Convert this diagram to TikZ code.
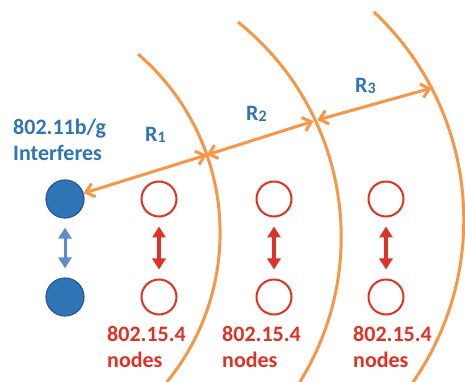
\documentclass[tikz,border=0pt]{standalone}
\usepackage{fontspec}
\setmainfont{Carlito}
\usetikzlibrary{arrows.meta}
\definecolor{wifiblue}{RGB}{46,117,182}
\definecolor{wifiedge}{RGB}{47,85,151}
\definecolor{linkblue}{RGB}{91,140,205}
\definecolor{zigred}{RGB}{222,50,38}
\definecolor{rangeorange}{RGB}{247,150,70}
\newcommand\rsub[1]{R\raisebox{-1pt}{\fontsize{16}{16}\selectfont #1}}
\begin{document}
\begin{tikzpicture}[x=1pt, y=1pt,
  every node/.style = {font=\bfseries\fontsize{22}{26}\selectfont},
  wifi/.style = {circle, draw=wifiedge, line width=1.2pt, fill=wifiblue,
    minimum size=38pt, inner sep=0pt},
  zig/.style = {circle, draw=zigred, line width=2pt, minimum size=35pt, inner sep=0pt},
  rangearc/.style = {rangeorange, line width=3pt},
  reach/.style = {rangearc, {Straight Barb[length=8pt,width=14pt]}-{Straight Barb[length=8pt,width=14pt]}},
  link/.style = {line width=3pt, shorten <=9pt, shorten >=9pt,
    {Triangle[length=11pt,width=13pt]}-{Triangle[length=11pt,width=13pt]}},
  caption/.style = {anchor=base west, align=left, inner sep=0pt},
  rlabel/.style = {anchor=base west, inner sep=0pt, text=wifiblue}
  ]
  \useasboundingbox (0,0) rectangle (465,382);

  \draw[rangearc] (-15.6,149.2) ++(49.3:235.7) arc[start angle=49.3, end angle=-39.3, radius=235.7];
  \draw[rangearc] (65.9,145.1) ++(51.3:275.3) arc[start angle=51.3, end angle=-31.8, radius=275.3];
  \draw[rangearc] (178.7,162.3) ++(46.8:285.1) arc[start angle=46.8, end angle=-34.7, radius=285.1];
  \path (-15.6,149.2) ++(19.3:235.7) coordinate (r1);
  \path (65.9,145.1) ++(25.0:275.3) coordinate (r2);
  \path (178.7,162.3) ++(27.5:285.1) coordinate (r3);

  \node[wifi] (w1) at (65,183) {};
  \node[wifi] (w2) at (65,85) {};
  \draw[link, linkblue] (w1) -- (w2);
  \foreach \i/\x in {1/159, 2/274, 3/386} {
    \node[zig] (z\i) at (\x,183) {};
    \node[zig] (zb\i) at (\x,85) {};
    \draw[link, zigred, line width=3.5pt] (z\i) -- (zb\i);
  }

  \draw[reach] (w1) -- (r1);
  \draw[reach, shorten >=2pt] (r1) -- (r2);
  \draw[reach, shorten <=2pt] (r2) -- (r3);

  \node[rlabel] (l1) at (145,240) {\rsub{1}};
  \node[rlabel] (l2) at (246,261) {\rsub{2}};
  \node[rlabel] (l3) at (355,289) {\rsub{3}};

  \node[caption, text=wifiblue] (wifitext) at (13,221) {802.11b/g\\Interferes};
  \node[caption, text=zigred] (zigtext1) at (107,14) {802.15.4\\nodes};
  \node[caption, text=zigred] (zigtext2) at (222,14) {802.15.4\\nodes};
  \node[caption, text=zigred] (zigtext3) at (353,14) {802.15.4\\nodes};
\end{tikzpicture}
\end{document}
